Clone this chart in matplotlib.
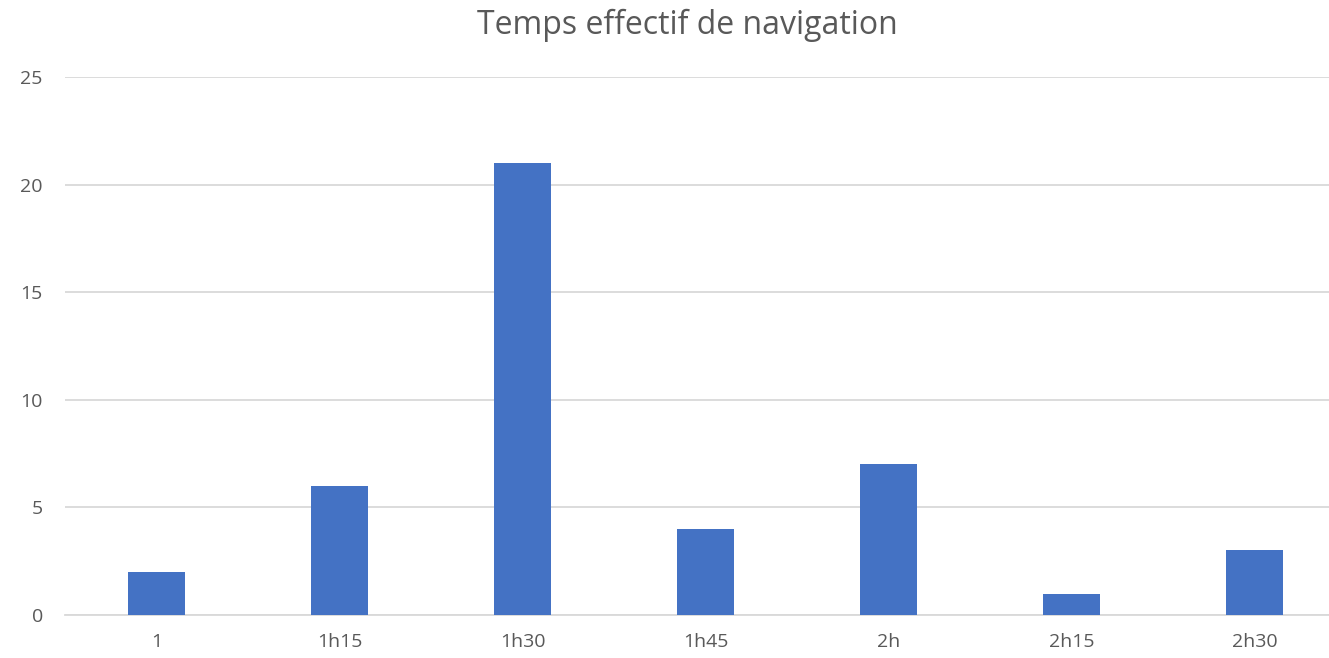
import matplotlib.pyplot as plt
import numpy as np

# Données du graphique
categories = ['1', '1h15', '1h30', '1h45', '2h', '2h15', '2h30']
valeurs = [2, 6, 21, 4, 7, 1, 3]
graduations_y = [0, 5, 10, 15, 20, 25]

plt.rcParams['font.family'] = ['Open Sans', 'DejaVu Sans']
gris = '#595959'

fig = plt.figure(figsize=(13.29, 6.58), dpi=100)
ax = fig.add_axes([0.0489, 0.0653, 0.964, 0.8176])

x = np.arange(len(categories))
ax.bar(x, valeurs, width=0.31, color='#4472C4', zorder=3)

ax.set_xlim(-0.5, len(categories) - 0.5)
ax.set_ylim(0, 25)
ax.set_yticks(graduations_y)
ax.set_xticks(x)
ax.set_xticklabels(categories)
ax.yaxis.grid(True, color='#D9D9D9', linewidth=1.3, zorder=0)

for s in ['top', 'right', 'left']:
    ax.spines[s].set_visible(False)
ax.spines['bottom'].set_color('#D9D9D9')
ax.spines['bottom'].set_linewidth(1.3)
ax.tick_params(axis='both', length=0, labelsize=14, colors=gris)
ax.tick_params(axis='x', pad=13)
ax.tick_params(axis='y', pad=16)

fig.text(0.517, 0.962, 'Temps effectif de navigation', ha='center', va='center',
         fontsize=23, color=gris)

plt.savefig('out.png', dpi=100)
